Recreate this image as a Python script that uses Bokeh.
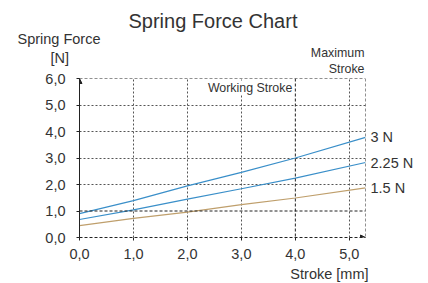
from bokeh.plotting import figure
from bokeh.models import (Label, Span, Arrow, NormalHead, FixedTicker, Grid, Range1d, LinearAxis, Title)
from bokeh.embed import file_html
from bokeh.resources import INLINE

# ---- data ----
stroke = [0.0, 1.0, 2.0, 3.0, 4.0, 5.3]
force_3n = [0.90, 1.39, 1.95, 2.46, 3.00, 3.78]
force_225n = [0.68, 1.04, 1.45, 1.84, 2.24, 2.83]
force_15n = [0.45, 0.72, 0.96, 1.24, 1.49, 1.87]
series_labels = ["3 N", "2.25 N", "1.5 N"]
x_ticks = [0, 1, 2, 3, 4, 5]
x_tick_labels = ["0,0", "1,0", "2,0", "3,0", "4,0", "5,0"]
y_ticks = [0, 1, 2, 3, 4, 5, 6]
y_tick_labels = ["0,0", "1,0", "2,0", "3,0", "4,0", "5,0", "6,0"]
working_stroke = 4.0
max_stroke = 5.3
max_force = 6.0
ref_force = 1.0

FONT = "Liberation Sans"
TXT = "#333333"
GRID = "#555555"
DARK = "#222222"
BLUE = "#3a8fc9"
TAN = "#bf9f6c"
MID = "14.5px"
SMALL = "12.4px"

p = figure(width=428, height=283, output_backend="svg", toolbar_location=None,
           x_range=Range1d(0, max_stroke), y_range=Range1d(0, max_force),
           min_border_left=79, min_border_right=63, min_border_top=0, min_border_bottom=45)
p.title_location = None
p.outline_line_color = None
p.xgrid.visible = False
p.ygrid.visible = False

# axes
for ax, ticks, labels in ((p.xaxis[0], x_ticks, x_tick_labels), (p.yaxis[0], y_ticks, y_tick_labels)):
    ax.ticker = FixedTicker(ticks=ticks)
    ax.major_label_overrides = {t: l for t, l in zip(ticks, labels)}
    ax.minor_tick_line_color = None
    ax.major_tick_in = 0
    ax.major_tick_out = 3
    ax.major_tick_line_color = DARK
    ax.axis_line_color = DARK
    ax.major_label_text_font = FONT
    ax.major_label_text_font_size = MID
    ax.major_label_text_color = TXT
p.xaxis.major_label_standoff = 8
p.yaxis.major_label_standoff = 11
p.xaxis.axis_line_dash = "3 2"

# right axis carrying the series labels at the line ends
ends = [force_3n[-1], force_225n[-1], force_15n[-1]]
rax = LinearAxis(ticker=FixedTicker(ticks=ends),
                 major_label_overrides={e: l for e, l in zip(ends, series_labels)},
                 axis_line_color=None, major_tick_line_color=None, minor_tick_line_color=None,
                 major_tick_out=0, major_tick_in=0,
                 major_label_standoff=5, major_label_text_font=FONT, major_label_text_font_size=MID,
                 major_label_text_color=TXT)
p.add_layout(rax, "right")

# grids (dotted) excluding specially styled lines
p.add_layout(Grid(dimension=0, ticker=FixedTicker(ticks=[t for t in x_ticks if t not in (0, working_stroke)]),
                  grid_line_color=GRID, grid_line_dash="2 2", grid_line_width=1))
p.add_layout(Grid(dimension=1, ticker=FixedTicker(ticks=[t for t in y_ticks if t not in (0, ref_force, max_force)]),
                  grid_line_color=GRID, grid_line_dash="2 2", grid_line_width=1))

# dashed special lines
for loc, dim in ((working_stroke, "height"), (max_stroke, "height"), (ref_force, "width"), (max_force, "width")):
    p.add_layout(Span(location=loc, dimension=dim, line_color=DARK, line_dash="3 2", line_width=1))

# lines
p.line(stroke, force_3n, line_color=BLUE, line_width=1.2)
p.line(stroke, force_225n, line_color=BLUE, line_width=1.2)
p.line(stroke, force_15n, line_color=TAN, line_width=1.2)

# axis arrows
p.add_layout(Arrow(end=NormalHead(size=5, fill_color=DARK, line_color=DARK), x_start=0, y_start=0,
                   x_end=0, y_end=max_force, line_color=DARK, line_width=1))
p.add_layout(Arrow(end=NormalHead(size=5, fill_color=DARK, line_color=DARK), x_start=max_stroke * 0.98, y_start=0,
                   x_end=max_stroke, y_end=0, line_color=DARK, line_width=1, line_alpha=0))

# texts above the frame: stacked titles (first = closest to the frame)
def top_title(text, size, align, offset, standoff):
    p.add_layout(Title(text=text, align=align, vertical_align="middle", offset=offset, standoff=standoff,
                       text_font=FONT, text_font_size=size, text_color=TXT, text_font_style="normal"), "above")

top_title("Stroke", SMALL, "right", 1, 3)
top_title("[N]", MID, "left", -29, -14)
top_title("Maximum", SMALL, "right", 1, -11)
top_title("Spring Force", MID, "left", -62, 6)
top_title("Spring Force Chart", "20px", "left", 49, -12)
top_title(" ", "11px", "left", 0, 0)

p.add_layout(Label(x=working_stroke, y=max_force, x_offset=-3, y_offset=-9, text="Working Stroke",
                   text_align="right", text_baseline="middle", text_font=FONT, text_font_size=SMALL,
                   text_color=TXT, background_fill_color="white"))

p.add_layout(Title(text="Stroke [mm]", align="right", vertical_align="bottom", text_font=FONT,
                   text_font_size=MID, standoff=4,
                   text_color=TXT, text_font_style="normal", offset=-3), "below")

open("out.html", "w").write(file_html(p, INLINE))
